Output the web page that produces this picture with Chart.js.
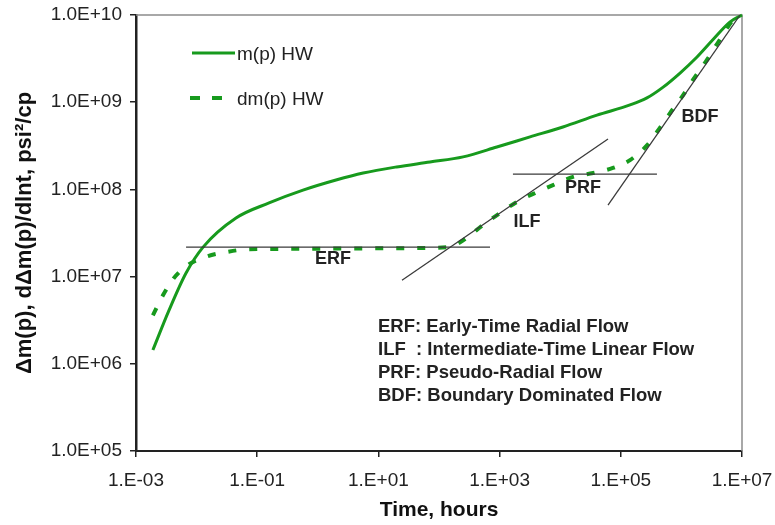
<!DOCTYPE html>
<html>
<head>
<meta charset="utf-8">
<script src="https://cdn.jsdelivr.net/npm/chart.js@4.4.1/dist/chart.umd.min.js"></script>
<style>
  body { margin: 0; background: #fff; }
  #wrap { width: 775px; height: 525px; }
</style>
</head>
<body>
<div id="wrap"><canvas id="myGraph"></canvas></div>
<script>
// m(p) HW
const mpTime = [1.9e-3, 3.5e-3, 6.7e-3, 1.28e-2, 4.47e-2, 0.157, 0.57, 2.0, 5.6, 20, 71, 250, 900, 3180, 1.11e4, 4.05e4, 1.42e5, 2.7e5, 5.0e5, 9.5e5, 1.81e6, 3.3e6, 6.3e6, 1e7];
const mpValue = [1.44e6, 4.1e6, 1.1e7, 2.18e7, 4.7e7, 7.0e7, 9.8e7, 1.28e8, 1.54e8, 1.81e8, 2.06e8, 2.36e8, 3.06e8, 4.0e8, 5.2e8, 7.1e8, 9.3e8, 1.12e9, 1.49e9, 2.16e9, 3.3e9, 5.2e9, 8.3e9, 1e10];

// dm(p) HW
const dmpTime = [1.9e-3, 2.8e-3, 4.2e-3, 7.2e-3, 1.54e-2, 3.05e-2, 6.5e-2, 0.3, 3, 30, 136, 700, 1940, 4140, 7600, 1.63e4, 3.5e4, 7.4e4, 1.42e5, 2.7e5, 3.95e5, 6.5e5, 1.02e6, 1.55e6, 2.64e6, 4.3e6, 7.7e6, 1e7];
const dmpValue = [3.6e6, 6.15e6, 9.6e6, 1.36e7, 1.72e7, 1.91e7, 2.05e7, 2.08e7, 2.1e7, 2.12e7, 2.18e7, 4.5e7, 7.2e7, 9.3e7, 1.12e8, 1.39e8, 1.54e8, 1.76e8, 2.17e8, 3.2e8, 4.55e8, 7.5e8, 1.15e9, 1.8e9, 3.05e9, 5.2e9, 9.3e9, 1e10];

// flow regime straight lines (start, end)
const erfTime = [6.7e-3, 695];
const erfValue = [2.18e7, 2.18e7];
const ilfTime = [24.5, 6.15e4];
const ilfValue = [9.1e6, 3.79e8];
const prfTime = [1660, 3.95e5];
const prfValue = [1.5e8, 1.5e8];
const bdfTime = [6.15e4, 9.3e6];
const bdfValue = [6.6e7, 1e10];

const flowNames = ["ERF", "ILF", "PRF", "BDF"];
const flowNameTime = [1.78, 2830, 2.38e4, 2.03e6];
const flowNameValue = [1.59e7, 4.2e7, 1.04e8, 6.76e8];

const notes = [
  "ERF: Early-Time Radial Flow",
  "ILF  : Intermediate-Time Linear Flow",
  "PRF: Pseudo-Radial Flow",
  "BDF: Boundary Dominated Flow",
];

const xTicks = [1e-3, 1e-1, 1e1, 1e3, 1e5, 1e7];
const xTickLabels = ["1.E-03", "1.E-01", "1.E+01", "1.E+03", "1.E+05", "1.E+07"];
const yTicks = [1e5, 1e6, 1e7, 1e8, 1e9, 1e10];
const yTickLabels = ["1.0E+05", "1.0E+06", "1.0E+07", "1.0E+08", "1.0E+09", "1.0E+10"];

const green = "#179a1d";
const font = "Arial, 'Liberation Sans', sans-serif";
Chart.defaults.font.family = font;

const pts = (xs, ys) => xs.map((x, i) => ({ x: x, y: ys[i] }));

const refLine = (xs, ys) => ({
  data: pts(xs, ys),
  showLine: true,
  borderColor: "#3a3a3a",
  borderWidth: 1.3,
  pointRadius: 0,
});

const extras = {
  id: "extras",
  beforeDatasetsDraw(chart) {
    const { ctx, chartArea: a } = chart;
    ctx.save();
    ctx.strokeStyle = "#8c8c8c";
    ctx.lineWidth = 1.5;
    ctx.beginPath();
    ctx.moveTo(a.left, a.top);
    ctx.lineTo(a.right, a.top);
    ctx.lineTo(a.right, a.bottom);
    ctx.stroke();
    ctx.restore();
  },
  afterDatasetsDraw(chart) {
    const { ctx, scales } = chart;
    ctx.save();

    // legend
    ctx.lineWidth = 3;
    ctx.strokeStyle = green;
    ctx.beginPath();
    ctx.moveTo(192, 53);
    ctx.lineTo(235, 53);
    ctx.stroke();
    ctx.lineWidth = 4;
    ctx.setLineDash([10, 12]);
    ctx.beginPath();
    ctx.moveTo(190, 98);
    ctx.lineTo(223, 98);
    ctx.stroke();
    ctx.setLineDash([]);
    ctx.fillStyle = "#222";
    ctx.font = "19px " + font;
    ctx.textBaseline = "middle";
    ctx.fillText("m(p) HW", 237, 55);
    ctx.fillText("dm(p) HW", 237, 100);

    // flow regime labels
    ctx.font = "bold 18px " + font;
    ctx.textAlign = "center";
    flowNames.forEach((name, i) => {
      ctx.fillText(name, scales.x.getPixelForValue(flowNameTime[i]), scales.y.getPixelForValue(flowNameValue[i]));
    });

    // notes
    ctx.textAlign = "left";
    ctx.textBaseline = "alphabetic";
    ctx.font = "bold 18.5px " + font;
    notes.forEach((t, i) => ctx.fillText(t, 378, 332 + i * 23));
    ctx.restore();
  },
};

const ctx = document.getElementById("myGraph");

new Chart(ctx, {
  type: "scatter",
  data: {
    datasets: [
      refLine(erfTime, erfValue),
      refLine(ilfTime, ilfValue),
      refLine(prfTime, prfValue),
      refLine(bdfTime, bdfValue),
      {
        label: "dm(p) HW",
        data: pts(dmpTime, dmpValue),
        showLine: true,
        borderColor: green,
        borderWidth: 4,
        borderDash: [8, 13],
        pointRadius: 0,
        cubicInterpolationMode: "monotone",
        clip: 4,
      },
      {
        label: "m(p) HW",
        data: pts(mpTime, mpValue),
        showLine: true,
        borderColor: green,
        borderWidth: 3,
        pointRadius: 0,
        cubicInterpolationMode: "monotone",
        clip: 4,
      },
    ],
  },
  options: {
    responsive: true,
    maintainAspectRatio: false,
    animation: false,
    layout: { padding: { top: 15, right: 33, left: 0, bottom: 0 } },
    plugins: {
      legend: { display: false },
      tooltip: { enabled: false },
    },
    scales: {
      x: {
        type: "logarithmic",
        min: 1e-3,
        max: 1e7,
        afterBuildTicks: (axis) => {
          axis.ticks = xTicks.map((v) => ({ value: v }));
        },
        afterFit: (axis) => {
          axis.height = 74;
          axis.paddingLeft = 0;
          axis.paddingRight = 0;
          axis.paddingTop = 0;
          axis.paddingBottom = 0;
        },
        ticks: {
          callback: (v, i) => xTickLabels[i],
          autoSkip: false,
          maxRotation: 0,
          padding: 12,
          color: "#222",
          font: { size: 19 },
        },
        grid: { drawOnChartArea: false, tickLength: 6, color: "#222", lineWidth: 1.5 },
        border: { color: "#222", width: 2 },
        title: {
          display: true,
          text: "Time, hours",
          color: "#111",
          font: { size: 21, weight: "bold" },
          padding: { bottom: 2 },
        },
      },
      y: {
        type: "logarithmic",
        min: 1e5,
        max: 1e10,
        afterBuildTicks: (axis) => {
          axis.ticks = yTicks.map((v) => ({ value: v }));
        },
        afterFit: (axis) => {
          axis.width = 136;
          axis.paddingLeft = 0;
          axis.paddingRight = 0;
          axis.paddingTop = 0;
          axis.paddingBottom = 0;
        },
        ticks: {
          callback: (v, i) => yTickLabels[i],
          autoSkip: false,
          padding: 8,
          color: "#222",
          font: { size: 19 },
        },
        grid: { drawOnChartArea: false, tickLength: 6, color: "#222", lineWidth: 1.5 },
        border: { color: "#222", width: 2.5 },
        title: {
          display: true,
          text: "Δm(p), dΔm(p)/dlnt, psi²/cp",
          color: "#111",
          font: { size: 22, weight: "bold" },
          padding: { top: 12 },
        },
      },
    },
  },
  plugins: [extras],
});
</script>
</body>
</html>
